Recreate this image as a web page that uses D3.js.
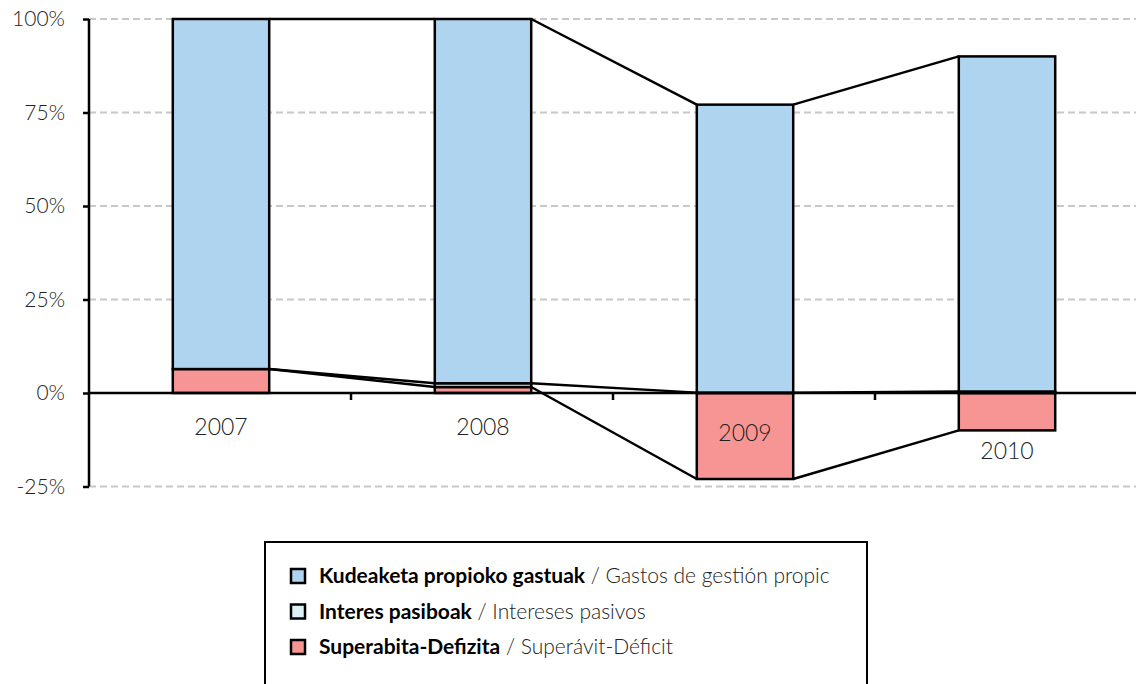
<!DOCTYPE html>
<html>
<head>
<meta charset="utf-8">
<script src="https://cdn.jsdelivr.net/npm/d3@7"></script>
<style>
  body { margin: 0; background: #fff; }
  svg { display: block; font-family: Lato, "Open Sans", sans-serif; }
</style>
</head>
<body>
<div id="chart"></div>
<script>
// data (percent)
const years = ["2007", "2008", "2009", "2010"];
const gastos = [93.6, 97.4, 77.0, 89.6];      // Kudeaketa propioko gastuak
const interes = [0, 1.0, 0.1, 0.4];           // Interes pasiboak
const superavit = [6.4, 1.6, -23.0, -10.0];   // Superabita-Defizita
const yTicks = [-25, 0, 25, 50, 75, 100];

const series = [
  { key: "superavit", values: superavit, color: "#f79595", eu: "Superabita-Defizita", es: "Superávit-Déficit" },
  { key: "interes", values: interes, color: "#dcf0f6", eu: "Interes pasiboak", es: "Intereses pasivos" },
  { key: "gastos", values: gastos, color: "#aed4f0", eu: "Kudeaketa propioko gastuak", es: "Gastos de gestión propic" }
];

const width = 1136, height = 684;

const svg = d3.select("#chart").append("svg")
  .attr("width", width)
  .attr("height", height);

const x = d3.scaleBand().domain(years).range([90, 1138]);
const y = d3.scaleLinear().domain([-25, 100]).range([486.5, 19]);
const barW = x.bandwidth() * 0.368;
const barX = d => x(d) + (x.bandwidth() - barW) / 2;

// manual stacking: positives go up, negatives go down
const stacked = series.map(s => ({ ...s, segs: [] }));
years.forEach((yr, i) => {
  let pos = 0, neg = 0;
  stacked.forEach(s => {
    const v = s.values[i];
    let y0, y1, end;
    if (v >= 0) { y0 = pos; y1 = pos + v; pos = y1; end = y1; }
    else { y0 = neg + v; y1 = neg; neg = y0; end = y0; }
    s.segs.push({ year: yr, y0, y1, end });
  });
});

// grid lines
svg.append("g")
  .selectAll("line")
  .data(yTicks.filter(t => t !== 0))
  .enter()
  .append("line")
  .attr("x1", 89)
  .attr("x2", width)
  .attr("y1", d => y(d))
  .attr("y2", d => y(d))
  .attr("stroke", "#c8c8c8")
  .attr("stroke-width", 2)
  .attr("stroke-dasharray", "7,4");

// bars
stacked.forEach(s => {
  svg.append("g")
    .selectAll("rect")
    .data(s.segs)
    .enter()
    .append("rect")
    .attr("x", d => barX(d.year))
    .attr("y", d => y(d.y1))
    .attr("width", barW)
    .attr("height", d => y(d.y0) - y(d.y1))
    .attr("fill", s.color)
    .attr("stroke", "#000")
    .attr("stroke-width", 2.5);
});

// series lines between bars
stacked.forEach(s => {
  svg.append("g")
    .selectAll("line")
    .data(d3.pairs(s.segs))
    .enter()
    .append("line")
    .attr("x1", d => barX(d[0].year) + barW)
    .attr("y1", d => y(d[0].end))
    .attr("x2", d => barX(d[1].year))
    .attr("y2", d => y(d[1].end))
    .attr("stroke", "#000")
    .attr("stroke-width", 2.5);
});

// zero axis with category ticks
svg.append("line")
  .attr("x1", 89).attr("x2", width)
  .attr("y1", y(0)).attr("y2", y(0))
  .attr("stroke", "#000").attr("stroke-width", 2.5);

svg.append("g")
  .selectAll("line")
  .data(years.slice(1))
  .enter()
  .append("line")
  .attr("x1", d => x(d) - 1)
  .attr("x2", d => x(d) - 1)
  .attr("y1", y(0))
  .attr("y2", y(0) + 7)
  .attr("stroke", "#000")
  .attr("stroke-width", 2.5);

// category labels (positions as Excel put them)
const labelDy = { "2007": 34, "2008": 34, "2009": 40, "2010": 58 };
svg.append("g")
  .selectAll("text")
  .data(years)
  .enter()
  .append("text")
  .attr("x", d => x(d) + x.bandwidth() / 2)
  .attr("y", d => y(0) + labelDy[d])
  .attr("dy", "0.35em")
  .attr("text-anchor", "middle")
  .attr("font-size", 23)
  .attr("font-weight", 300)
  .attr("fill", "#222")
  .text(d => d);

// y axis
const yAxis = svg.append("g")
  .attr("transform", "translate(89,0)")
  .call(d3.axisLeft(y).tickValues(yTicks).tickSize(6).tickPadding(18).tickFormat(d => d + "%"));
yAxis.select(".domain").attr("stroke-width", 2.5).attr("d", `M0,${y(-25)}V${y(100)}`);
yAxis.selectAll(".tick line").attr("stroke-width", 2.5);
yAxis.selectAll(".tick text")
  .attr("font-size", 21)
  .attr("font-weight", 300)
  .attr("fill", "#222")
  .attr("font-family", "Lato, sans-serif");

// legend
const legend = svg.append("g");
legend.append("rect")
  .attr("x", 265).attr("y", 542)
  .attr("width", 602).attr("height", 170)
  .attr("fill", "#fff")
  .attr("stroke", "#000")
  .attr("stroke-width", 2);

const legendOrder = [stacked[2], stacked[1], stacked[0]];
const row = legend.selectAll("g.item")
  .data(legendOrder)
  .enter()
  .append("g")
  .attr("class", "item")
  .attr("transform", (d, i) => `translate(291,${576 + i * 35.5})`);

row.append("rect")
  .attr("x", 0).attr("y", -7)
  .attr("width", 14).attr("height", 14)
  .attr("fill", d => d.color)
  .attr("stroke", "#000")
  .attr("stroke-width", 2.5);

const txt = row.append("text")
  .attr("x", 28)
  .attr("dy", "0.35em")
  .attr("font-size", 21);
txt.append("tspan")
  .attr("font-weight", 700)
  .attr("fill", "#000")
  .text(d => d.eu);
txt.append("tspan")
  .attr("font-weight", 300)
  .attr("fill", "#222")
  .text(d => " / " + d.es);
</script>
</body>
</html>
